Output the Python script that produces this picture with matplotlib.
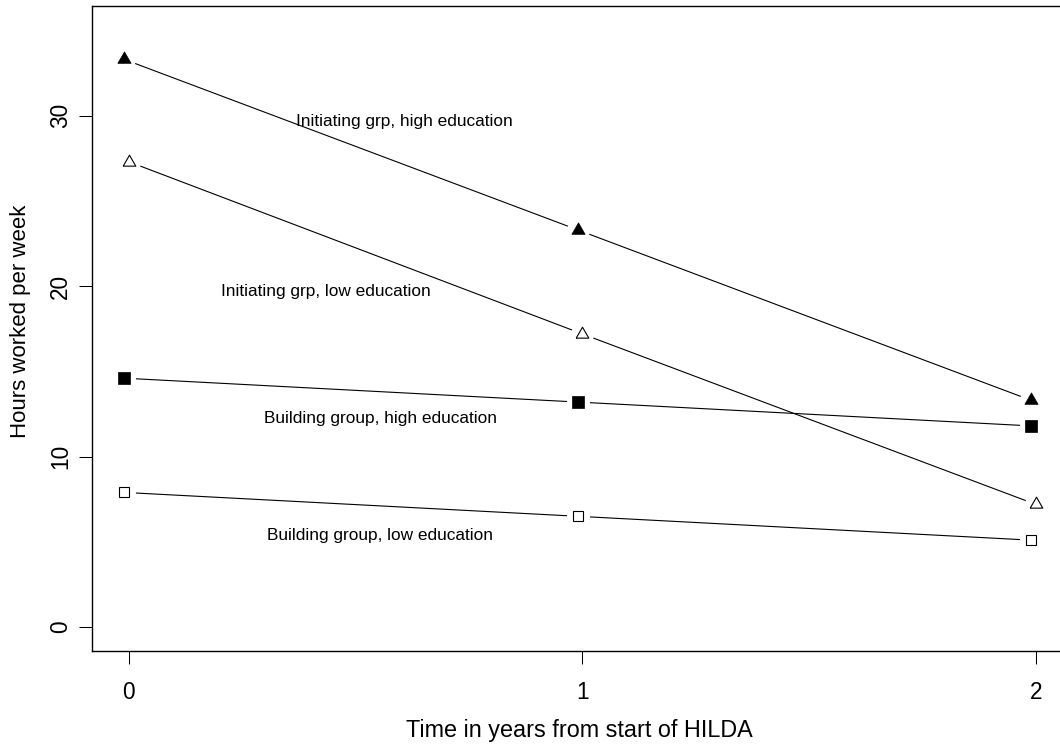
import numpy as np
import matplotlib
matplotlib.use("Agg")
import matplotlib.pyplot as plt

plt.rcParams['font.family'] = ['Liberation Sans', 'DejaVu Sans']

# dados (horas por semana)
time = [0, 1, 2]
time_jit = [-0.01, 0.99, 1.99]
init_high = [33.3, 23.3, 13.3]
init_low = [27.3, 17.2, 7.2]
build_high = [14.6, 13.2, 11.8]
build_low = [7.9, 6.5, 5.1]

labels = ["Initiating grp, high education", "Initiating grp, low education",
          "Building group, high education", "Building group, low education"]
xticks = [0, 1, 2]
yticks = [0, 10, 20, 30]

# triangulo equilatero como no R (caminho fechado)
tri = [(-0.866, -0.5), (0.866, -0.5), (0, 1.0), (-0.866, -0.5)]

series = [
    (time_jit, init_high, dict(marker=tri, ms=11, mfc='black', mec='black', mew=0.5)),
    (time, init_low, dict(marker=tri, ms=10.5, mfc='white', mec='black', mew=0.8)),
    (time_jit, build_high, dict(marker='s', ms=8.4, mfc='black', mec='black', mew=0.5)),
    (time_jit, build_low, dict(marker='s', ms=7.8, mfc='white', mec='black', mew=0.8)),
]

fig = plt.figure(figsize=(10.6, 7.45), dpi=100)
ax = fig.add_axes([0.0871, 0.1262, 0.9242, 0.8651])

for xs, ys, st in series:
    ax.plot(xs, ys, color='black', lw=0.8, zorder=1)
    # buraco na linha em volta do ponto (type="b")
    ax.plot(xs, ys, ls='none', marker='o', ms=16.5, mfc='white', mec='none', zorder=2)
    ax.plot(xs, ys, ls='none', zorder=3, **st)

fs_txt = 12.4
ax.text(0.608, 29.65, labels[0], ha='center', va='center', fontsize=fs_txt)
ax.text(0.436, 19.68, labels[1], ha='center', va='center', fontsize=fs_txt)
ax.text(0.556, 12.26, labels[2], ha='center', va='center', fontsize=fs_txt)
ax.text(0.554, 5.37, labels[3], ha='center', va='center', fontsize=fs_txt)

ax.set_xlim(-0.08, 2.08)
ax.set_ylim(-1.4, 36.4)
ax.set_xticks(xticks)
ax.set_yticks(yticks)
ax.tick_params(axis='both', length=9.4, width=0.75, labelsize=16.3)
ax.tick_params(axis='x', pad=12)
ax.tick_params(axis='y', pad=5, labelrotation=90)
for lab in ax.get_yticklabels():
    lab.set_va('center')
for sp in ax.spines.values():
    sp.set_linewidth(1.0)

fig.text(579 / 1060, 1 - 730 / 745, "Time in years from start of HILDA",
         ha='center', va='center', fontsize=16.8)
fig.text(20.5 / 1060, 1 - 321.5 / 745, "Hours worked per week",
         ha='center', va='center', rotation=90, fontsize=16.0)

fig.savefig("out.png", dpi=100)
